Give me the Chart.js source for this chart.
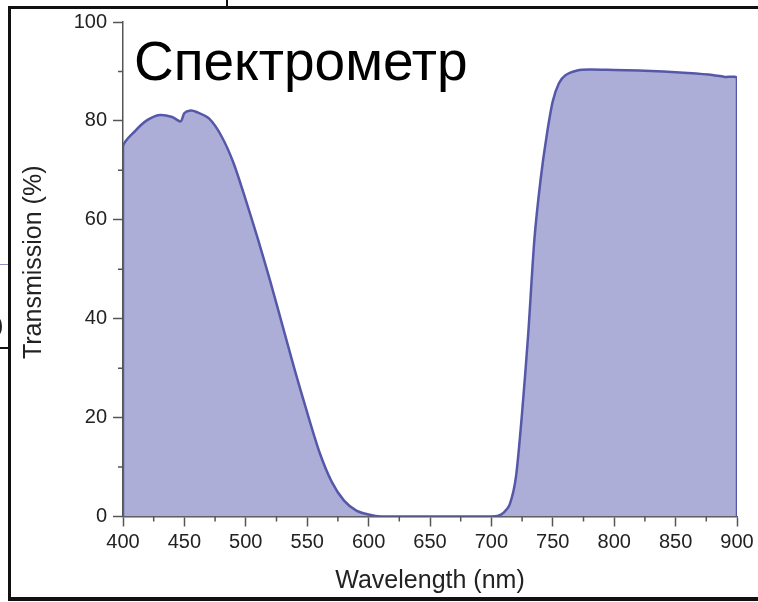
<!DOCTYPE html>
<html>
<head>
<meta charset="utf-8">
<script src="https://cdn.jsdelivr.net/npm/chart.js@4/dist/chart.umd.min.js"></script>
<style>
  html, body { margin: 0; padding: 0; background: #fff; }
  #wrap { position: relative; width: 758px; height: 602px; overflow: hidden; }
  #chart { position: absolute; left: 0; top: 0; }
  .line { position: absolute; background: #111; }
  #title {
    position: absolute; left: 134px; top: 34px;
    font: 55px "Liberation Sans", Arial, sans-serif; line-height: 1;
    color: #000; white-space: nowrap;
  }
  #cut { position: absolute; left: -4px; top: 312px; font: 22px "Liberation Sans", Arial, sans-serif; color: #222; }
</style>
</head>
<body>
<div id="wrap">
  <canvas id="chart" width="758" height="602"></canvas>
  <div class="line" style="left:8px;top:6px;width:750px;height:3px"></div>
  <div class="line" style="left:8px;top:6px;width:3px;height:594px"></div>
  <div class="line" style="left:8px;top:597px;width:750px;height:4px"></div>
  <div class="line" style="left:226px;top:0;width:2px;height:7px"></div>
  <div class="line" style="left:0;top:264px;width:8px;height:1px;background:#8c8cc6"></div>
  <div class="line" style="left:0;top:347px;width:9px;height:2px"></div>
  <div id="cut">)</div>
  <div id="title">Спектрометр</div>
</div>
<script>
// spectrum (wavelength in nm, transmission in %)
const wavelength = [400, 400, 410, 420, 430, 440, 447, 450, 455, 460, 470, 480, 490,
  500, 510, 520, 530, 540, 550, 560, 570, 580, 590, 600, 610, 650, 700,
  705, 710, 715, 720, 725, 730, 735, 740, 745, 750, 755, 760, 770, 780,
  800, 820, 840, 860, 880, 890, 900, 900];
const transmission = [0, 74.8, 78, 80.2, 81.2, 80.8, 79.9, 81.6, 82.1, 81.8, 80.5, 77, 71.5,
  64, 56, 47.5, 38.5, 29.5, 21, 13, 7, 3.2, 1.2, 0.4, 0, 0, 0,
  0.1, 0.8, 2.5, 8, 21, 37, 56, 68, 77, 84, 87.6, 89.2, 90.2, 90.4,
  90.3, 90.2, 90, 89.7, 89.3, 88.9, 88.6, 0];

const xTicks = [400, 450, 500, 550, 600, 650, 700, 750, 800, 850, 900];
const yTicks = [0, 20, 40, 60, 80, 100];
const xMinor = [425, 475, 525, 575, 625, 675, 725, 775, 825, 875];
const yMinor = [10, 30, 50, 70, 90];

const axisColor = '#555';
const points = wavelength.map((w, i) => ({ x: w, y: transmission[i] }));

// short minor tick marks between the labelled ones
const minorTicks = {
  id: 'minorTicks',
  afterDraw(chart) {
    const { ctx, scales: { x, y } } = chart;
    ctx.save();
    ctx.strokeStyle = axisColor;
    ctx.lineWidth = 1.5;
    ctx.beginPath();
    for (const v of xMinor) {
      const px = x.getPixelForValue(v);
      ctx.moveTo(px, x.top);
      ctx.lineTo(px, x.top + 5);
    }
    for (const v of yMinor) {
      const py = y.getPixelForValue(v);
      ctx.moveTo(y.right, py);
      ctx.lineTo(y.right - 5, py);
    }
    ctx.stroke();
    ctx.restore();
  }
};

const tickFont = { family: '"Liberation Sans", Arial, sans-serif', size: 20 };
const titleFont = { family: '"Liberation Sans", Arial, sans-serif', size: 25 };

new Chart(document.getElementById('chart'), {
  type: 'line',
  data: {
    datasets: [{
      data: points,
      borderColor: '#5558a8',
      borderWidth: 2.5,
      backgroundColor: '#adaed8',
      fill: 'origin',
      pointRadius: 0,
      tension: 0.25
    }]
  },
  options: {
    responsive: false,
    animation: false,
    layout: { padding: { left: 10, top: 22, right: 21, bottom: 6 } },
    plugins: { legend: { display: false }, tooltip: { enabled: false } },
    scales: {
      x: {
        type: 'linear',
        min: 400, max: 900,
        afterBuildTicks: s => { s.ticks = xTicks.map(v => ({ value: v })); },
        afterFit: s => { s.height = 79.5; },
        ticks: { font: tickFont, color: '#222', padding: 4, maxRotation: 0 },
        grid: { drawOnChartArea: false, drawTicks: true, tickLength: 10, tickColor: axisColor, tickWidth: 1.5 },
        border: { display: true, color: axisColor, width: 1.5 },
        title: { display: true, text: 'Wavelength (nm)', font: titleFont, color: '#222', padding: { top: 0, bottom: 0 } }
      },
      y: {
        min: 0, max: 100,
        afterBuildTicks: s => { s.ticks = yTicks.map(v => ({ value: v })); },
        afterFit: s => { s.width = 113; },
        ticks: { font: tickFont, color: '#222', padding: 6 },
        grid: { drawOnChartArea: false, drawTicks: true, tickLength: 10, tickColor: axisColor, tickWidth: 1.5 },
        border: { display: true, color: axisColor, width: 1.5 },
        // leading spaces nudge the rotated title upwards a little
        title: { display: true, text: '  Transmission (%)', font: titleFont, color: '#222', padding: { top: 9, bottom: 0 } }
      }
    }
  },
  plugins: [minorTicks]
});
</script>
</body>
</html>
